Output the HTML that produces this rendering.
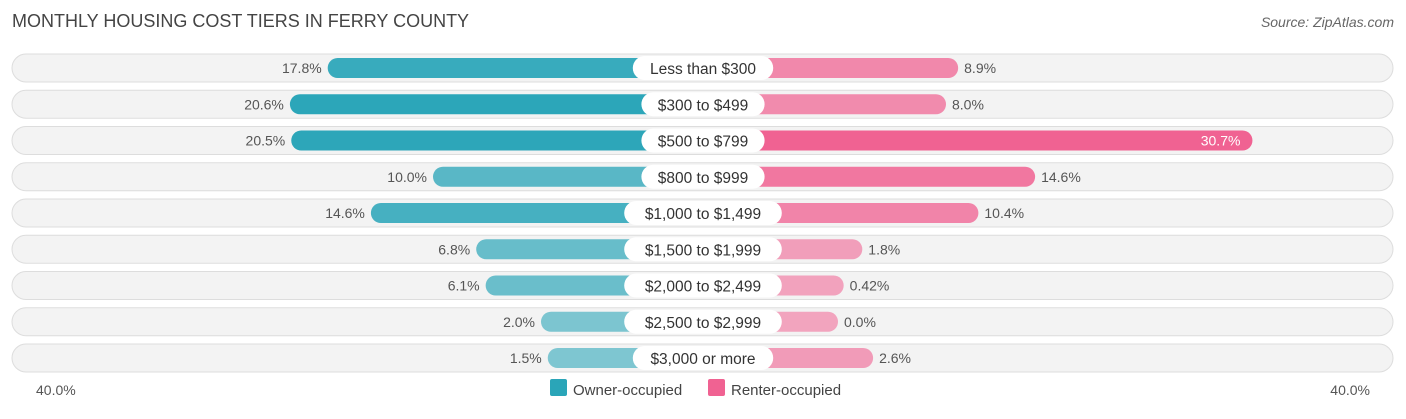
<!DOCTYPE html>
<html><head><meta charset="utf-8"><style>
body{margin:0;background:#fff;width:1406px;height:414px;overflow:hidden;font-family:"Liberation Sans",sans-serif}
</style></head><body>
<svg id="c" width="1406" height="414" xmlns="http://www.w3.org/2000/svg">
<text x="12" y="27" font-size="18" fill="#444">MONTHLY HOUSING COST TIERS IN FERRY COUNTY</text>
<text x="1394" y="27" font-size="14" fill="#666" font-style="italic" text-anchor="end">Source: ZipAtlas.com</text>
<g id="rows"></g>
<text x="36" y="395" font-size="14" fill="#555">40.0%</text>
<text x="1370" y="395" font-size="14" fill="#555" text-anchor="end">40.0%</text>
<rect x="550" y="379" width="17" height="17" rx="2" fill="#2aa5b8"/>
<text x="573" y="395" font-size="15" fill="#444">Owner-occupied</text>
<rect x="708" y="379" width="17" height="17" rx="2" fill="#f06292"/>
<text x="731" y="395" font-size="15" fill="#444">Renter-occupied</text>
</svg>
<script>
const categories=["Less than $300","$300 to $499","$500 to $799","$800 to $999","$1,000 to $1,499","$1,500 to $1,999","$2,000 to $2,499","$2,500 to $2,999","$3,000 or more"];
const owner=[17.8,20.6,20.5,10.0,14.6,6.8,6.1,2.0,1.5];
const renter=[8.9,8.0,30.7,14.6,10.4,1.8,0.42,0.0,2.6];
const ownerLabels=["17.8%","20.6%","20.5%","10.0%","14.6%","6.8%","6.1%","2.0%","1.5%"];
const renterLabels=["8.9%","8.0%","30.7%","14.6%","10.4%","1.8%","0.42%","0.0%","2.6%"];
const NS="http://www.w3.org/2000/svg",g=document.getElementById('rows');
const cx=703,base=135,k=13.5,y0=68,dy=36.25,bh=20;
function x(v){return base+k*v;}
function mk(t,a){const e=document.createElementNS(NS,t);for(const n in a)e.setAttribute(n,a[n]);g.appendChild(e);return e;}
const maxV=Math.max(...owner,...renter);
categories.forEach((c,i)=>{
 const yc=y0+i*dy;
 const bg=mk('rect',{x:12,y:yc-14,width:1381,height:28,rx:14,fill:'#f3f3f3',stroke:'#ddd'});
 
 
 const ow=x(owner[i]);
 const ob=mk('rect',{x:cx-ow,y:yc-bh/2,width:ow,height:bh,rx:10,fill:'#2aa5b8','fill-opacity':0.55+0.45*owner[i]/21});
 
 
 const rw=x(renter[i]);
 const rb=mk('rect',{x:cx,y:yc-bh/2,width:rw,height:bh,rx:10,fill:'#f06292','fill-opacity':0.55+0.45*Math.min(1,renter[i]/21)});
 
 
 const ol=mk('text',{x:cx-ow-6,y:yc+5,'font-size':14,fill:'#555','text-anchor':'end'});ol.textContent=ownerLabels[i];
 
 
 const inside=renter[i]>25;
 const rl=mk('text',{x:inside?cx+rw-12:cx+rw+6,y:yc+5,'font-size':14,fill:inside?'#fff':'#555','text-anchor':inside?'end':'start'});rl.textContent=renterLabels[i];
 
 
 const w=c.length*8.6+20;
 const pill=mk('rect',{x:cx-w/2,y:yc-12,width:w,height:24,rx:12,fill:'#fff'});
 
 
 const cl=mk('text',{x:cx,y:yc+6,'font-size':15.5,fill:'#333','text-anchor':'middle'});cl.textContent=c;
 
 
});
</script>
</body></html>
